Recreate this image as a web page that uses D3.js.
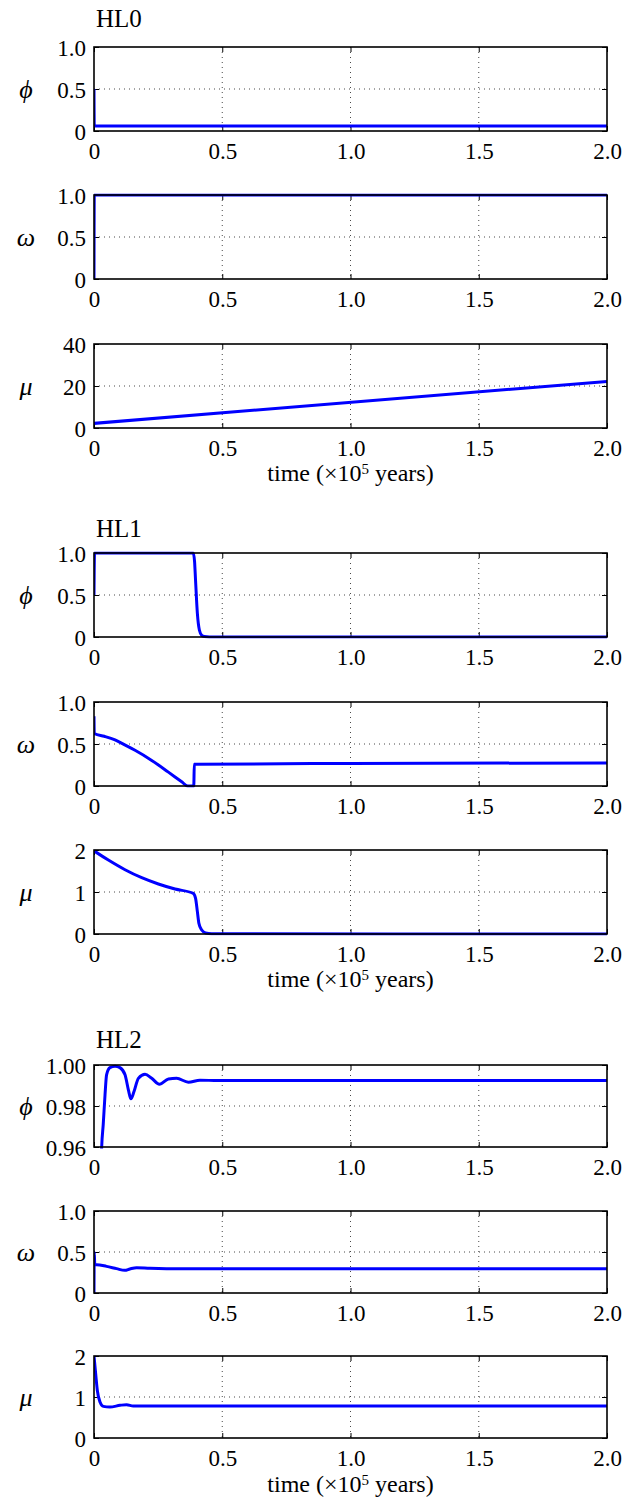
<!DOCTYPE html>
<html lang="en">
<head>
  <meta charset="UTF-8">
  <title>HL0 / HL1 / HL2 time series</title>
  <style>
    body { margin: 0; background: #fff; }
    svg { display: block; }
    .grid line { stroke: #333; stroke-width: 0.9; stroke-dasharray: 1, 4; }
    .axis line { stroke: #000; stroke-width: 1; }
    .frame { fill: none; stroke: #000; stroke-width: 1.6; }
    .series { fill: none; stroke: #0000ff; stroke-width: 3; }
  </style>
</head>
<body>
  <div id="chart"></div>

  <script src="https://d3js.org/d3.v7.min.js"></script>
  <script>
    const width = 637, height = 1499;
    const serif = "'Liberation Serif'";

    // x axis (time, x10^5 years)
    const xTicks = [0, 0.5, 1.0, 1.5, 2.0];
    const xTickLabels = ["0", "0.5", "1.0", "1.5", "2.0"];

    // HL0
    const hl0PhiT = [0, 0.001, 2.0];
    const hl0PhiV = [0.5, 0.06, 0.06];
    const hl0OmegaT = [0, 0.001, 2.0];
    const hl0OmegaV = [0, 1.0, 1.0];
    const hl0MuT = [0, 2.0];
    const hl0MuV = [2.2, 22.2];

    // HL1
    const hl1PhiT = [0, 0.002, 0.387, 0.392, 0.396, 0.403, 0.411, 0.42, 0.43, 0.45, 2.0];
    const hl1PhiV = [0.5, 1.0, 1.0, 0.9, 0.67, 0.28, 0.08, 0.02, 0.005, 0, 0];
    const hl1OmegaT = [0, 0.001, 0.04, 0.082, 0.12, 0.16, 0.225, 0.29, 0.342, 0.365, 0.389, 0.391, 0.40, 1.0, 2.0];
    const hl1OmegaV = [0.83, 0.625, 0.592, 0.548, 0.49, 0.425, 0.305, 0.165, 0.05, 0, 0, 0.258, 0.26, 0.268, 0.275];
    const hl1MuT = [0, 0.056, 0.121, 0.186, 0.251, 0.316, 0.387, 0.396, 0.403, 0.409, 0.42, 0.435, 0.459, 2.0];
    const hl1MuV = [1.98, 1.76, 1.53, 1.34, 1.19, 1.07, 0.968, 0.849, 0.532, 0.254, 0.095, 0.024, 0.008, 0];

    // HL2
    const hl2PhiT = [0, 0.02, 0.030, 0.036, 0.043, 0.049, 0.062, 0.082, 0.101, 0.121, 0.134, 0.144, 0.156,
                     0.173, 0.199, 0.225, 0.255, 0.290, 0.322, 0.368, 0.413, 0.483, 2.0];
    const hl2PhiV = [0.5, 0.9, 0.96, 0.971, 0.9855, 0.9952, 0.9987, 0.9994, 0.9987, 0.9952, 0.9879, 0.9835, 0.9871,
                     0.9935, 0.9955, 0.9935, 0.9906, 0.9932, 0.9935, 0.9916, 0.9926, 0.9924, 0.9924];
    const hl2OmegaT = [0, 0.001, 0.003, 0.0104, 0.049, 0.088, 0.120, 0.140, 0.166, 0.218, 0.283, 2.0];
    const hl2OmegaV = [0, 0.5, 0.345, 0.345, 0.325, 0.297, 0.276, 0.293, 0.309, 0.301, 0.297, 0.295];
    const hl2MuT = [0, 0.0065, 0.013, 0.0234, 0.0363, 0.062, 0.1014, 0.127, 0.153, 0.192, 2.0];
    const hl2MuV = [2.0, 1.57, 1.16, 0.878, 0.772, 0.756, 0.797, 0.813, 0.780, 0.78, 0.78];

    // y ticks
    const unitTicks = [0, 0.5, 1.0];
    const unitTickLabels = ["0", "0.5", "1.0"];
    const mu40Ticks = [0, 20, 40];
    const mu40TickLabels = ["0", "20", "40"];
    const mu2Ticks = [0, 1, 2];
    const mu2TickLabels = ["0", "1", "2"];
    const phiZoomTicks = [0.96, 0.98, 1.00];
    const phiZoomTickLabels = ["0.96", "0.98", "1.00"];

    const groupTitles = ["HL0", "HL1", "HL2"];
    const axisSymbols = ["\u03D5", "\u03C9", "\u03BC"];

    // layout (pixel positions of each panel)
    const plotLeft = 94, plotRight = 607;
    const groups = [
      { title: groupTitles[0], titleY: 27, xlabelY: 481, panels: [
        { top: 47, bottom: 131, sym: axisSymbols[0], dom: [0, 1], ticks: unitTicks, labels: unitTickLabels, t: hl0PhiT, v: hl0PhiV },
        { top: 195, bottom: 279, sym: axisSymbols[1], dom: [0, 1], ticks: unitTicks, labels: unitTickLabels, t: hl0OmegaT, v: hl0OmegaV },
        { top: 344, bottom: 428, sym: axisSymbols[2], dom: [0, 40], ticks: mu40Ticks, labels: mu40TickLabels, t: hl0MuT, v: hl0MuV }
      ]},
      { title: groupTitles[1], titleY: 537, xlabelY: 987, panels: [
        { top: 553, bottom: 637, sym: axisSymbols[0], dom: [0, 1], ticks: unitTicks, labels: unitTickLabels, t: hl1PhiT, v: hl1PhiV },
        { top: 702, bottom: 786, sym: axisSymbols[1], dom: [0, 1], ticks: unitTicks, labels: unitTickLabels, t: hl1OmegaT, v: hl1OmegaV },
        { top: 850, bottom: 934, sym: axisSymbols[2], dom: [0, 2], ticks: mu2Ticks, labels: mu2TickLabels, t: hl1MuT, v: hl1MuV }
      ]},
      { title: groupTitles[2], titleY: 1048, xlabelY: 1492, panels: [
        { top: 1065, bottom: 1147, sym: axisSymbols[0], dom: [0.96, 1.0], ticks: phiZoomTicks, labels: phiZoomTickLabels, t: hl2PhiT, v: hl2PhiV },
        { top: 1211, bottom: 1293, sym: axisSymbols[1], dom: [0, 1], ticks: unitTicks, labels: unitTickLabels, t: hl2OmegaT, v: hl2OmegaV },
        { top: 1356, bottom: 1438, sym: axisSymbols[2], dom: [0, 2], ticks: mu2Ticks, labels: mu2TickLabels, t: hl2MuT, v: hl2MuV }
      ]}
    ];

    const svg = d3.select("#chart").append("svg")
      .attr("width", width)
      .attr("height", height)
      .style("font-family", serif);

    const x = d3.scaleLinear().domain([0, 2]).range([plotLeft, plotRight]);

    let clipId = 0;
    groups.forEach(grp => {
      svg.append("text")
        .attr("x", plotLeft + 2)
        .attr("y", grp.titleY)
        .style("font-family", serif)
        .style("font-size", "25px")
        .text(grp.title);

      grp.panels.forEach(p => {
        const y = d3.scaleLinear().domain(p.dom).range([p.bottom, p.top]);
        const g = svg.append("g");

        // grid
        const grid = g.append("g").attr("class", "grid");
        grid.selectAll(".gx").data(xTicks.slice(1, -1)).join("line")
          .attr("x1", d => x(d)).attr("x2", d => x(d))
          .attr("y1", p.top).attr("y2", p.bottom);
        grid.selectAll(".gy").data(p.ticks.slice(1, -1)).join("line")
          .attr("y1", d => y(d)).attr("y2", d => y(d))
          .attr("x1", plotLeft).attr("x2", plotRight);

        // axes, ticks pointing inward
        g.append("g").attr("class", "axis")
          .attr("transform", `translate(0,${p.bottom})`)
          .call(d3.axisBottom(x).tickValues(xTicks).tickSize(-5).tickPadding(12)
                  .tickFormat((d, i) => xTickLabels[i]));
        g.append("g").attr("class", "axis")
          .attr("transform", `translate(0,${p.top})`)
          .call(d3.axisTop(x).tickValues(xTicks).tickSize(-5).tickFormat(""));
        const leftAxis = g.append("g").attr("class", "axis")
          .attr("transform", `translate(${plotLeft},0)`)
          .call(d3.axisLeft(y).tickValues(p.ticks).tickSize(-5).tickPadding(8)
                  .tickFormat((d, i) => p.labels[i]));
        g.append("g").attr("class", "axis")
          .attr("transform", `translate(${plotRight},0)`)
          .call(d3.axisRight(y).tickValues(p.ticks).tickSize(-5).tickFormat(""));
        g.selectAll(".axis .domain").remove();
        g.selectAll(".axis").attr("font-family", null);
        g.selectAll(".axis text")
          .attr("fill", "#000")
          .style("font-family", serif)
          .style("font-size", "23px");
        leftAxis.selectAll("text").attr("dy", "0.35em");

        // series
        clipId += 1;
        svg.append("clipPath").attr("id", "clip" + clipId)
          .append("rect")
          .attr("x", plotLeft).attr("y", p.top - 1.5)
          .attr("width", plotRight - plotLeft).attr("height", p.bottom - p.top + 3);

        const pts = p.t.map((t, i) => [t, p.v[i]]);
        const line = d3.line()
          .x(d => x(d[0]))
          .y(d => y(d[1]))
          .curve(d3.curveMonotoneX);
        g.append("path")
          .attr("class", "series")
          .attr("clip-path", `url(#clip${clipId})`)
          .attr("d", line(pts));

        // frame
        g.append("rect").attr("class", "frame")
          .attr("x", plotLeft).attr("y", p.top)
          .attr("width", plotRight - plotLeft).attr("height", p.bottom - p.top);

        // y label
        g.append("text")
          .attr("x", 26)
          .attr("y", (p.top + p.bottom) / 2)
          .attr("dy", "0.35em")
          .attr("text-anchor", "middle")
          .style("font-family", serif)
          .style("font-size", "26px")
          .style("font-style", "italic")
          .text(p.sym);
      });

      const xl = svg.append("text")
        .attr("x", (plotLeft + plotRight) / 2)
        .attr("y", grp.xlabelY)
        .attr("text-anchor", "middle")
        .style("font-family", serif)
        .style("font-size", "24px");
      xl.append("tspan").text("time (\u00D710");
      xl.append("tspan").style("font-size", "15px").attr("dy", -7).text("5");
      xl.append("tspan").attr("dy", 7).text(" years)");
    });
  </script>
</body>
</html>
